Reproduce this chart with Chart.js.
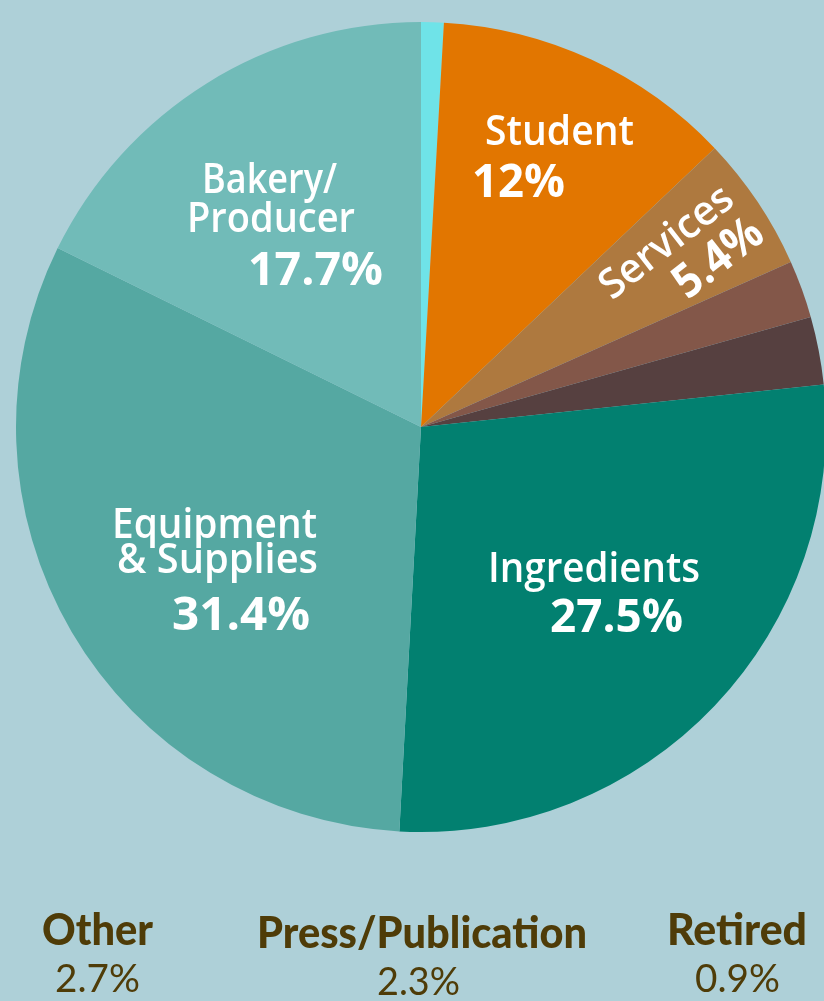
<!DOCTYPE html>
<html>
<head>
<meta charset="utf-8">
<script src="https://cdn.jsdelivr.net/npm/chart.js@4.4.1/dist/chart.umd.min.js"></script>
<style>
    html, body { margin: 0; padding: 0; background: #aed0d8; overflow: hidden; }
    #wrap { position: relative; width: 830px; height: 1001px; }
</style>
</head>
<body>
<div id="wrap"><canvas id="pie" width="830" height="1001"></canvas></div>
<script>
// slices, clockwise from 12 o'clock
const categories = ['Retired', 'Student', 'Services', 'Press/Publication', 'Other', 'Ingredients', 'Equipment & Supplies', 'Bakery/Producer'];
const shares = [0.9, 12, 5.4, 2.3, 2.7, 27.5, 31.4, 17.7];
const sliceColors = ['#6fe3e8', '#e27600', '#ae793f', '#835749', '#564040', '#028070', '#55a8a2', '#71bbb8'];

const pct = i => shares[i] + '%';

const nameFont = '600 41px "Open Sans"';
const pctFont = 'bold 47px "Open Sans"';
const footFont = '900 43px Lato';
const footPctFont = '400 38px Lato';

// text placement: [text, centre x, baseline y, width, font, colour, rotation in degrees]
const labels = [
    ['Bakery/', 269.5, 193, 135, nameFont, '#fff', 0],
    ['Producer', 271, 232, 168, nameFont, '#fff', 0],
    [pct(7), 315.5, 285, 135, pctFont, '#fff', 0],
    [categories[1], 559.5, 145, 149, nameFont, '#fff', 0],
    [pct(1), 518.5, 197, 93, pctFont, '#fff', 0],
    ['Equipment', 214.5, 538, 205, nameFont, '#fff', 0],
    ['& Supplies', 217.5, 573, 201, nameFont, '#fff', 0],
    [pct(6), 241, 630, 138, pctFont, '#fff', 0],
    [categories[5], 594, 582, 212, nameFont, '#fff', 0],
    [pct(5), 616.5, 632, 133, pctFont, '#fff', 0],
    [categories[2], 667, 243, 158, nameFont, '#fff', -38],
    [pct(2), 719, 259, 100, pctFont, '#fff', -38],
    [categories[4], 97.5, 945, 111, footFont, '#4f3c08', 0],
    [pct(4), 97.5, 992, 85, footPctFont, '#4f3c08', 0],
    [categories[3], 422, 948, 330, footFont, '#4f3c08', 0],
    [pct(3), 418.5, 995, 83, footPctFont, '#4f3c08', 0],
    [categories[0], 737, 945, 140, footFont, '#4f3c08', 0],
    [pct(0), 737.5, 992, 85, footPctFont, '#4f3c08', 0]
];

const textPlugin = {
    id: 'sliceText',
    afterDraw(chart) {
        const ctx = chart.ctx;
        labels.forEach(([text, x, y, w, font, color, rot]) => {
            ctx.save();
            ctx.font = font;
            ctx.fillStyle = color;
            ctx.textAlign = 'center';
            ctx.textBaseline = 'alphabetic';
            ctx.translate(x, y);
            if (rot) {
                // rotated labels are placed by their middle
                ctx.rotate(rot * Math.PI / 180);
                ctx.textBaseline = 'middle';
            }
            const m = ctx.measureText(text).width;
            ctx.scale(w / m, 1);
            ctx.fillText(text, 0, 0);
            ctx.restore();
        });
    }
};

new Chart(document.getElementById('pie'), {
    type: 'pie',
    data: {
        labels: categories,
        datasets: [{
            data: shares,
            backgroundColor: sliceColors,
            borderWidth: 0
        }]
    },
    options: {
        responsive: false,
        animation: false,
        layout: { padding: { left: 16, right: 4, top: 22, bottom: 169 } },
        plugins: {
            legend: { display: false },
            tooltip: { enabled: false }
        }
    },
    plugins: [textPlugin]
});
</script>
</body>
</html>
